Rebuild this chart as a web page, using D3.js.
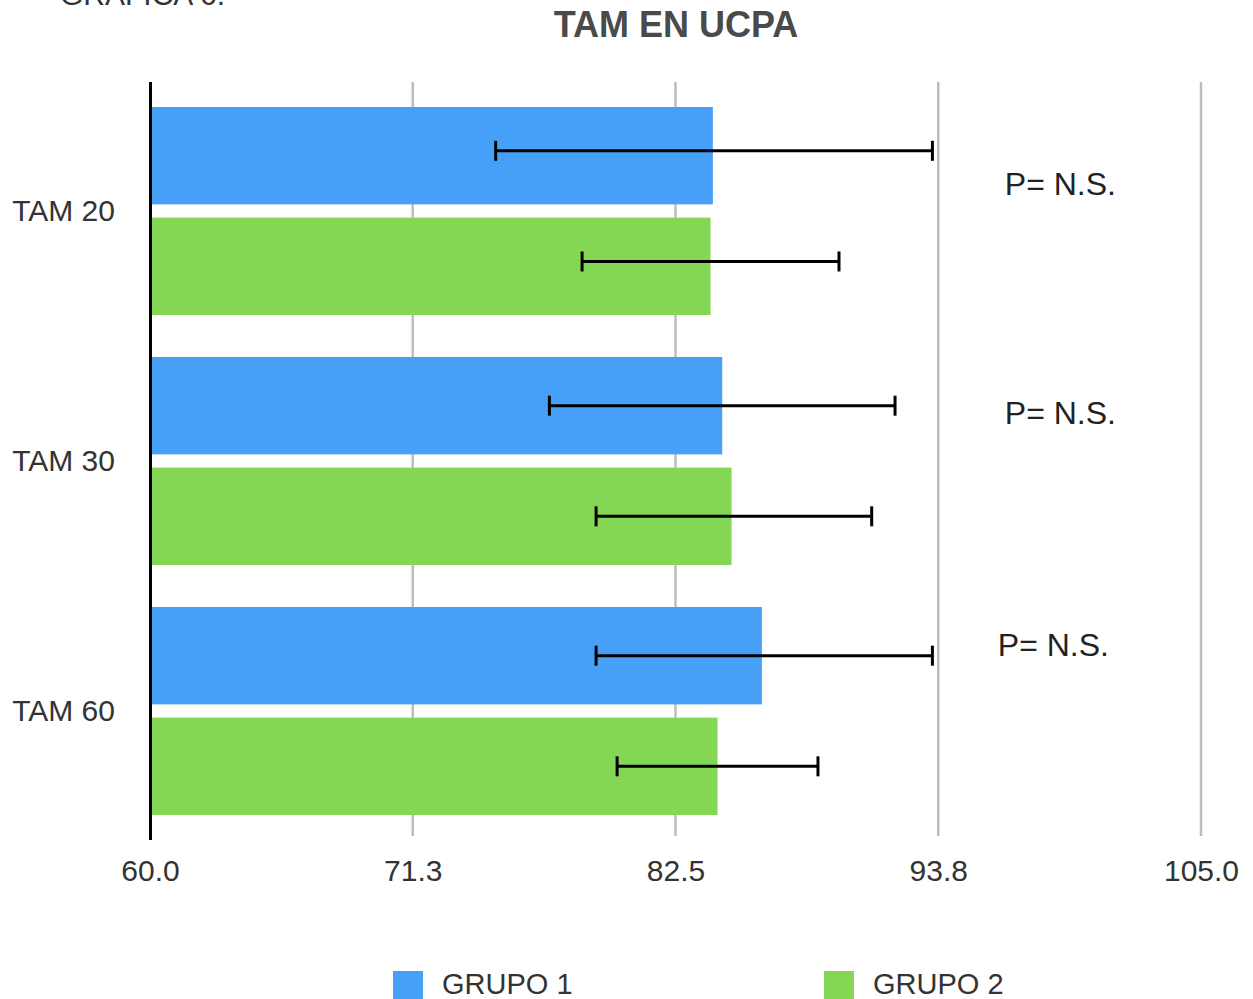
<!DOCTYPE html>
<html>
<head>
<meta charset="utf-8">
<script src="https://cdn.jsdelivr.net/npm/d3@7"></script>
<style>
  html, body { margin: 0; padding: 0; background: #fff; }
  svg { display: block; }
  text { font-family: "Liberation Sans", Arial, Helvetica, sans-serif; }
</style>
</head>
<body>
<svg id="chart" width="1253" height="999"></svg>
<script>
const categories = ["TAM 20", "TAM 30", "TAM 60"];
const seriesNames = ["GRUPO 1", "GRUPO 2"];
const grupo1 = [84.1, 84.5, 86.2];
const grupo2 = [84.0, 84.9, 84.3];
const grupo1Low = [74.8, 77.1, 79.1];
const grupo1High = [93.5, 91.9, 93.5];
const grupo2Low = [78.5, 79.1, 80.0];
const grupo2High = [89.5, 90.9, 88.6];
const tickValues = [60, 71.25, 82.5, 93.75, 105];
const tickLabels = ["60.0", "71.3", "82.5", "93.8", "105.0"];
const annotations = ["P= N.S.", "P= N.S.", "P= N.S."];
const titleText = "TAM EN UCPA";
const captionText = "GRAFICA 6.";

const colors = ["#47a0f8", "#84d655"];

const svg = d3.select("#chart");
const pLeft = 150, pRight = 1201, pTop = 82, pBottom = 840;

const x = d3.scaleLinear().domain([60, 105]).range([pLeft, pRight]);
const y = d3.scaleBand().domain(categories).range([pTop, pBottom])
  .paddingInner(0.168).paddingOuter(0.1);
const ySub = d3.scaleBand().domain(seriesNames).range([0, y.bandwidth()])
  .paddingInner(0.12);

const rows = [];
categories.forEach((c, i) => {
  rows.push({cat: c, s: seriesNames[0], v: grupo1[i], lo: grupo1Low[i], hi: grupo1High[i], col: colors[0]});
  rows.push({cat: c, s: seriesNames[1], v: grupo2[i], lo: grupo2Low[i], hi: grupo2High[i], col: colors[1]});
});

// caption (cut off at top, as in the source)
svg.append("text").attr("x", 60).attr("y", 5)
  .attr("font-size", 30).attr("fill", "#333").text(captionText);

// title
svg.append("text").attr("x", 676).attr("y", 37)
  .attr("text-anchor", "middle").attr("font-size", 36).attr("font-weight", "bold")
  .attr("fill", "#4a4a4a").text(titleText);

// gridlines
svg.append("g").selectAll("line").data(tickValues.slice(1)).join("line")
  .attr("x1", d => x(d)).attr("x2", d => x(d))
  .attr("y1", pTop).attr("y2", 836)
  .attr("stroke", "#bdbdbd").attr("stroke-width", 2.5);

// x axis labels via d3 axis
const xAxis = d3.axisBottom(x).tickValues(tickValues)
  .tickFormat((d, i) => tickLabels[i]).tickSize(0).tickPadding(0);
const gx = svg.append("g").attr("transform", `translate(0, 881)`).call(xAxis);
gx.select(".domain").remove();
gx.selectAll("text").attr("font-size", 30).attr("fill", "#333")
  .attr("dy", 0).attr("font-family", "Liberation Sans, Arial, sans-serif");

// bars
svg.append("g").selectAll("rect").data(rows).join("rect")
  .attr("x", x(60))
  .attr("y", d => y(d.cat) + ySub(d.s))
  .attr("width", d => x(d.v) - x(60))
  .attr("height", ySub.bandwidth())
  .attr("fill", d => d.col);

// error bars
const eg = svg.append("g").attr("stroke", "#000").attr("stroke-width", 3);
rows.forEach((d, k) => {
  const frac = d.cat === categories[0] ? 0.45 : 0.5;
  const cy = y(d.cat) + ySub(d.s) + ySub.bandwidth() * frac;
  eg.append("line").attr("x1", x(d.lo)).attr("x2", x(d.hi)).attr("y1", cy).attr("y2", cy);
  eg.append("line").attr("x1", x(d.lo)).attr("x2", x(d.lo)).attr("y1", cy - 10).attr("y2", cy + 10);
  eg.append("line").attr("x1", x(d.hi)).attr("x2", x(d.hi)).attr("y1", cy - 10).attr("y2", cy + 10);
});

// category labels
const yAxis = d3.axisLeft(y).tickSize(0).tickPadding(0);
const gy = svg.append("g").attr("transform", `translate(115, 0)`).call(yAxis);
gy.select(".domain").remove();
gy.selectAll("text").attr("font-size", 30).attr("fill", "#333")
  .attr("dy", "0.32em").attr("font-family", "Liberation Sans, Arial, sans-serif");

// vertical axis line
svg.append("line").attr("x1", x(60) + 0.5).attr("x2", x(60) + 0.5)
  .attr("y1", pTop).attr("y2", pBottom).attr("stroke", "#000").attr("stroke-width", 3);

// annotations
const annX = [96.6, 96.6, 96.3];
const annDy = [88, 67, 49];
svg.append("g").selectAll("text").data(annotations).join("text")
  .attr("x", (d, i) => x(annX[i]))
  .attr("y", (d, i) => y(categories[i]) + annDy[i])
  .attr("font-size", 32).attr("fill", "#222").text(d => d);

// legend
const lx = [393, 824];
const lg = svg.append("g");
seriesNames.forEach((s, i) => {
  lg.append("rect").attr("x", lx[i]).attr("y", 971).attr("width", 30).attr("height", 28)
    .attr("fill", colors[i]);
  lg.append("text").attr("x", lx[i] + 49).attr("y", 994)
    .attr("font-size", 29).attr("fill", "#333").text(s);
});
</script>
</body>
</html>
